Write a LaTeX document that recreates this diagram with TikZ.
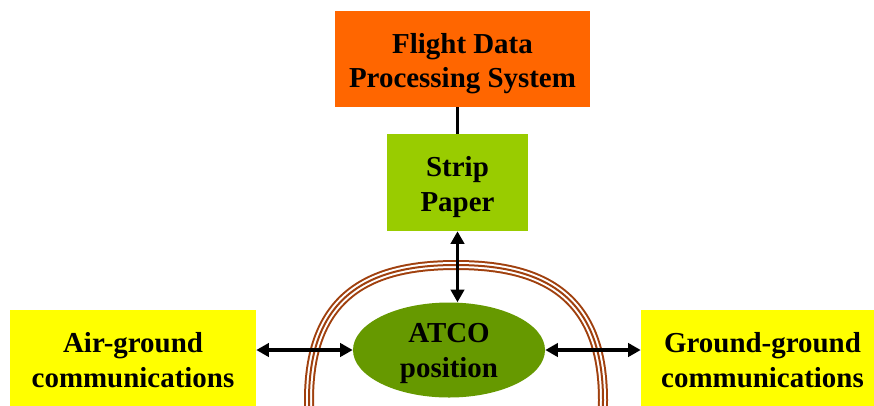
\documentclass[tikz,border=0pt]{standalone}
\usepackage{fontspec}
\setmainfont{Liberation Serif}
\usetikzlibrary{arrows.meta,shapes.geometric}

\definecolor{fdpsorange}{RGB}{255,102,0}
\definecolor{stripgreen}{RGB}{153,204,0}
\definecolor{commyellow}{RGB}{255,255,0}
\definecolor{atcogreen}{RGB}{102,153,0}
\definecolor{ringbrown}{RGB}{160,64,14}

\tikzset{
  lbl/.style={font=\fontsize{21.7}{26}\selectfont\bfseries, align=center, text=black, inner sep=0pt},
  box/.style={rectangle, draw=none, inner sep=0pt},
  link/.style={line width=2.5pt, black},
  dblarrow/.style={link, {Triangle[length=9.5pt,width=10pt]}-{Triangle[length=9.5pt,width=10pt]}},
}

\begin{document}
\begin{tikzpicture}[x=0.75pt, y=-0.75pt]
  \useasboundingbox (0,0) rectangle (874,405);
  \clip (0,0) rectangle (874,405);

  % triple ring around the controller position
  \def\ringpath{(456,265)
      .. controls (373.7,265) and (309,292) .. (309,400)
      .. controls (309,508) and (373.7,535) .. (456,535)
      .. controls (538.3,535) and (603,508) .. (603,400)
      .. controls (603,292) and (538.3,265) .. (456,265) -- cycle}
  \draw[ringbrown, line width=7.5pt] \ringpath;
  \draw[white, line width=4.5pt] \ringpath;
  \draw[ringbrown, line width=1.5pt] \ringpath;

  % boxes
  \node[box, fill=fdpsorange, minimum width=191.25pt, minimum height=72pt]
    (fdps) at (462.5,59) {};
  \node[box, fill=stripgreen, minimum width=105.75pt, minimum height=72.75pt]
    (strip) at (457.5,182.5) {};
  \node[box, fill=commyellow, minimum width=184.5pt, minimum height=75pt]
    (airgnd) at (133,360) {};
  \node[box, fill=commyellow, minimum width=182.25pt, minimum height=75pt]
    (gndgnd) at (762.5,360) {};
  \node[ellipse, inner sep=0pt, fill=atcogreen, minimum width=144pt, minimum height=71.25pt]
    (atco) at (449,350) {};

  % labels
  \node[lbl] (fdpstxt) at ([yshift=-3.5pt]fdps.center) {Flight Data\\Processing System};
  \node[lbl] (striptxt) at ([yshift=-3.5pt]strip.center) {Strip\\Paper};
  \node[lbl] (airgndtxt) at (airgnd.center) {Air-ground\\communications};
  \node[lbl] (gndgndtxt) at (gndgnd.center) {Ground-ground\\communications};
  \node[lbl] (atcotxt) at ([yshift=-2.5pt]atco.center) {ATCO\\position};

  % connectors
  \draw[link] (strip.north) -- (strip.north |- fdps.south);
  \draw[dblarrow] (strip.south) -- (atco.north -| strip.south);
  \draw[dblarrow] (airgnd.east |- atco.west) -- (atco.west);
  \draw[dblarrow] (atco.east) -- (atco.east -| gndgnd.west);
\end{tikzpicture}
\end{document}
